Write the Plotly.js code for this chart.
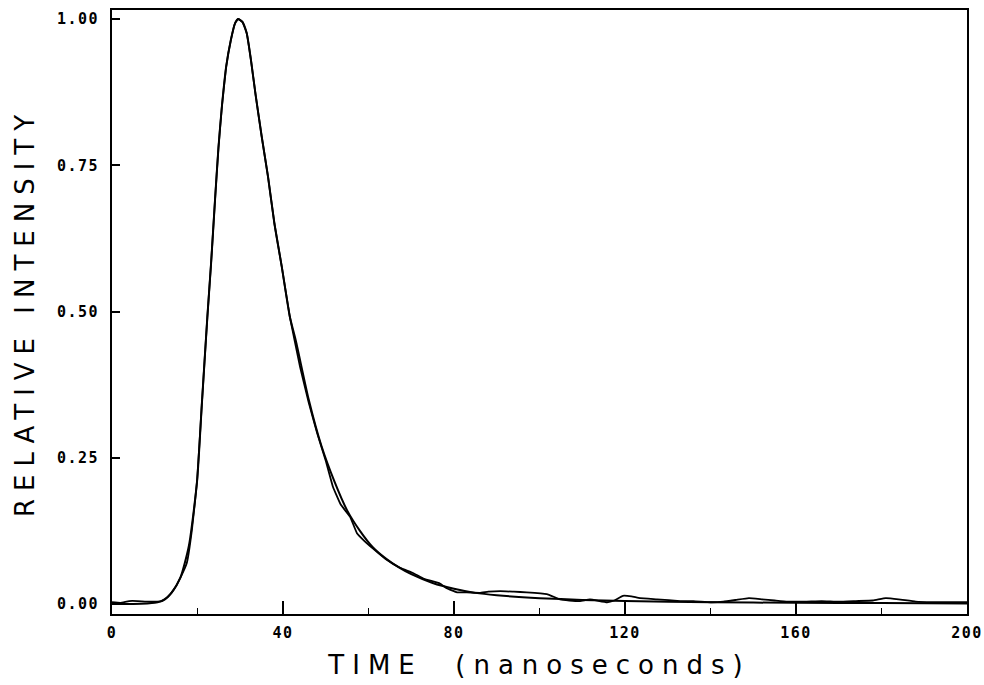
<!DOCTYPE html>
<html>
<head>
<meta charset="utf-8">
<script src="https://cdn.plot.ly/plotly-3.0.1.min.js"></script>
<style>
  html, body { margin: 0; padding: 0; background: #fff; }
  #chart { width: 984px; height: 685px; }
  .xtick text, .ytick text { letter-spacing: 1.5px; }
  .xtitle, .ytitle { letter-spacing: 8px; }
</style>
</head>
<body>
<div id="chart"></div>
<script>
// Measured decay (noisy trace)
const measuredTime = [0, 2, 4, 6, 8, 10, 11.5, 13, 14.5, 16, 17.5, 18.7, 19.9, 21, 22.3, 23.2, 24.1, 24.9, 25.7, 26.7, 27.8, 28.8, 29.5, 30.5, 31.5, 32.5, 33.6, 35, 36.5, 38, 39.7, 41.6, 44, 46, 48, 50, 51.7, 53.5, 55.7, 57.3, 59, 61, 64, 67.4, 70.4, 73, 76.7, 78.3, 80.7, 83, 86, 88, 90.8, 94, 97, 101.7, 104.8, 107, 109.5, 111.8, 115.8, 117.5, 119.5, 121.5, 123.5, 127.5, 132.9, 136, 140, 143, 146, 149, 152, 155, 158, 162, 166, 170, 174, 178, 181, 184, 188, 192, 196, 200];
const measuredIntensity = [0.003, 0.002, 0.005, 0.005, 0.004, 0.004, 0.005, 0.012, 0.025, 0.045, 0.07, 0.127, 0.21, 0.34, 0.49, 0.585, 0.691, 0.78, 0.85, 0.918, 0.964, 0.993, 1.0, 0.995, 0.976, 0.93, 0.87, 0.80, 0.73, 0.65, 0.577, 0.491, 0.405, 0.345, 0.292, 0.245, 0.2, 0.17, 0.149, 0.121, 0.108, 0.095, 0.077, 0.062, 0.053, 0.043, 0.035, 0.027, 0.02, 0.02, 0.019, 0.021, 0.022, 0.021, 0.02, 0.017, 0.008, 0.006, 0.005, 0.008, 0.003, 0.006, 0.014, 0.013, 0.01, 0.008, 0.005, 0.005, 0.003, 0.004, 0.007, 0.01, 0.008, 0.006, 0.004, 0.004, 0.005, 0.004, 0.005, 0.006, 0.01, 0.008, 0.004, 0.003, 0.003, 0.003];

// Fitted curve (smooth trace)
const fitTime = [0, 5, 10, 12, 14, 16, 18, 19.9, 21, 22.3, 23.2, 24.1, 24.9, 25.7, 26.7, 27.8, 28.8, 29.5, 30.5, 31.5, 32.5, 33.6, 35, 36.5, 38, 39.7, 41.6, 43, 46, 49, 52, 55, 58, 61, 64, 67, 70, 75, 80, 85, 90, 100, 110, 120, 140, 160, 180, 200];
const fitIntensity = [0, 0, 0.002, 0.006, 0.02, 0.045, 0.1, 0.21, 0.34, 0.49, 0.585, 0.691, 0.78, 0.85, 0.918, 0.964, 0.993, 1.0, 0.995, 0.976, 0.93, 0.87, 0.80, 0.73, 0.65, 0.577, 0.491, 0.45, 0.35, 0.27, 0.21, 0.16, 0.125, 0.097, 0.078, 0.063, 0.051, 0.036, 0.026, 0.019, 0.015, 0.01, 0.007, 0.005, 0.003, 0.002, 0.0015, 0.001];

const xTicks = [0, 40, 80, 120, 160, 200];
const xTickLabels = ['0', '40', '80', '120', '160', '200'];
const yTicks = [0, 0.25, 0.5, 0.75, 1.0];
const yTickLabels = ['0.00', '0.25', '0.50', '0.75', '1.00'];

const traces = [
  { x: measuredTime, y: measuredIntensity, type: 'scatter', mode: 'lines',
    line: { color: '#000', width: 1.8, shape: 'spline', smoothing: 0.3 }, name: 'measured' },
  { x: fitTime, y: fitIntensity, type: 'scatter', mode: 'lines',
    line: { color: '#000', width: 2, shape: 'spline', smoothing: 0.6 }, name: 'fit' }
];

const tickFont = { family: 'DejaVu Sans Mono', size: 15, color: '#000', weight: 'bold' };
const titleFont = { family: 'DejaVu Sans', size: 26, color: '#000' };

const layout = {
  width: 984, height: 685,
  margin: { l: 112, r: 17, t: 10, b: 71 },
  paper_bgcolor: '#fff', plot_bgcolor: '#fff',
  showlegend: false,
  xaxis: {
    range: [0, 200], tickmode: 'array', tickvals: xTicks, ticktext: xTickLabels,
    ticks: 'inside', ticklen: 13, tickwidth: 2, tickcolor: '#000',
    minor: { dtick: 20, tick0: 0, ticks: 'inside', ticklen: 6, tickwidth: 1.5, tickcolor: '#000' },
    showline: true, linecolor: '#000', linewidth: 2, mirror: true,
    showgrid: false, zeroline: false, tickfont: tickFont, ticklabelstandoff: 4,
    title: { text: 'TIME\u00a0\u00a0(nanoseconds)', font: titleFont, standoff: 15 }
  },
  yaxis: {
    range: [-0.0171, 1.0154], tickmode: 'array', tickvals: yTicks, ticktext: yTickLabels,
    ticks: 'inside', ticklen: 8, tickwidth: 2, tickcolor: '#000',
    showline: true, linecolor: '#000', linewidth: 2, mirror: true,
    showgrid: false, zeroline: false, tickfont: tickFont, ticklabelstandoff: 8,
    title: { text: 'RELATIVE INTENSITY', font: titleFont, standoff: 15 }
  }
};

Plotly.newPlot('chart', traces, layout, { staticPlot: true, displayModeBar: false });
</script>
</body>
</html>
